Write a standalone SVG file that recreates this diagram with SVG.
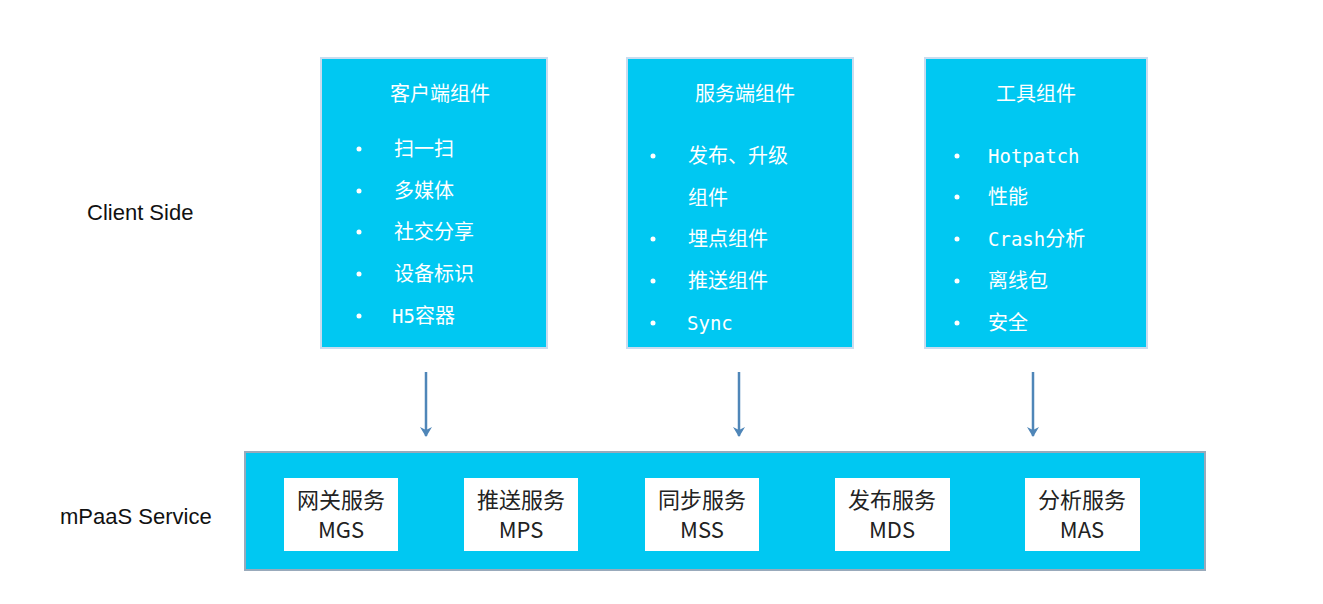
<svg xmlns="http://www.w3.org/2000/svg" width="1323" height="604" viewBox="0 0 1323 604">
<style>
.panel{fill:#00c8f2;stroke:#c9dcef;stroke-width:2}
.t{font-family:"Noto Sans CJK SC","Noto Sans",sans-serif;fill:#fff;font-size:20px}
.m{font-family:"DejaVu Sans Mono","Noto Sans CJK SC",monospace;fill:#fff;font-size:19px}
.lbl{font-family:"Liberation Sans","Noto Sans",sans-serif;font-size:22px;fill:#111}
.svc{fill:#fff}
.st{font-family:"Noto Sans CJK SC","Liberation Sans",sans-serif;font-size:22px;fill:#222;text-anchor:middle}
.c{fill:#fff}
</style>
<defs><marker id="ah" markerWidth="12" markerHeight="12" refX="9" refY="6" orient="auto" markerUnits="userSpaceOnUse"><path d="M0,0 L10,6 L0,12 L3,6 Z" fill="#4f86b8"/></marker></defs>
<rect width="1323" height="604" fill="#fff"/>
<text class="lbl" x="87" y="220">Client Side</text>
<text class="lbl" x="60" y="524">mPaaS Service</text>
<g id="client">
<rect class="panel" x="321" y="58" width="226" height="290"/>
<text class="t" x="440" y="101" text-anchor="middle">客户端组件</text>
<g class="c"><circle cx="359" cy="149" r="2.5"/><circle cx="359" cy="191" r="2.5"/><circle cx="359" cy="232" r="2.5"/><circle cx="359" cy="274" r="2.5"/><circle cx="359" cy="316" r="2.5"/></g>
<text class="t" x="394" y="156">扫一扫</text>
<text class="t" x="394" y="198">多媒体</text>
<text class="t" x="394" y="239">社交分享</text>
<text class="t" x="394" y="281">设备标识</text>
<text class="m" x="392" y="323">H5<tspan class="t">容器</tspan></text>
</g>
<g id="server">
<rect class="panel" x="627" y="58" width="226" height="290"/>
<text class="t" x="745" y="101" text-anchor="middle">服务端组件</text>
<g class="c"><circle cx="653" cy="156" r="2.5"/><circle cx="653" cy="239" r="2.5"/><circle cx="653" cy="281" r="2.5"/><circle cx="653" cy="323" r="2.5"/></g>
<text class="t" x="688" y="163">发布、升级</text>
<text class="t" x="688" y="205">组件</text>
<text class="t" x="688" y="246">埋点组件</text>
<text class="t" x="688" y="288">推送组件</text>
<text class="m" x="687" y="330">Sync</text>
</g>
<g id="tools">
<rect class="panel" x="925" y="58" width="222" height="290"/>
<text class="t" x="1036" y="101" text-anchor="middle">工具组件</text>
<g class="c"><circle cx="957" cy="156" r="2.5"/><circle cx="957" cy="197" r="2.5"/><circle cx="957" cy="239" r="2.5"/><circle cx="957" cy="281" r="2.5"/><circle cx="957" cy="323" r="2.5"/></g>
<text class="m" x="988" y="163">Hotpatch</text>
<text class="t" x="988" y="204">性能</text>
<text class="m" x="988" y="246">Crash<tspan class="t">分析</tspan></text>
<text class="t" x="988" y="288">离线包</text>
<text class="t" x="988" y="330">安全</text>
</g>
<g id="connectors" stroke="#4f86b8" stroke-width="2.5" fill="none">
<line x1="426" y1="372" x2="426" y2="436" marker-end="url(#ah)"/>
<line x1="739" y1="372" x2="739" y2="436" marker-end="url(#ah)"/>
<line x1="1033" y1="372" x2="1033" y2="436" marker-end="url(#ah)"/>
</g>
<g id="mpaas">
<rect class="panel" x="245" y="452" width="960" height="118" style="stroke:#9ab"/>
<g id="mgs"><rect class="svc" x="284" y="478" width="114" height="73"/><text class="st" x="341" y="508">网关服务</text><text class="st" x="341" y="538">MGS</text></g>
<g id="mps"><rect class="svc" x="464" y="478" width="114" height="73"/><text class="st" x="521" y="508">推送服务</text><text class="st" x="521" y="538">MPS</text></g>
<g id="mss"><rect class="svc" x="645" y="478" width="114" height="73"/><text class="st" x="702" y="508">同步服务</text><text class="st" x="702" y="538">MSS</text></g>
<g id="mds"><rect class="svc" x="835" y="478" width="115" height="73"/><text class="st" x="892" y="508">发布服务</text><text class="st" x="892" y="538">MDS</text></g>
<g id="mas"><rect class="svc" x="1025" y="478" width="115" height="73"/><text class="st" x="1082" y="508">分析服务</text><text class="st" x="1082" y="538">MAS</text></g>
</g>
</svg>
